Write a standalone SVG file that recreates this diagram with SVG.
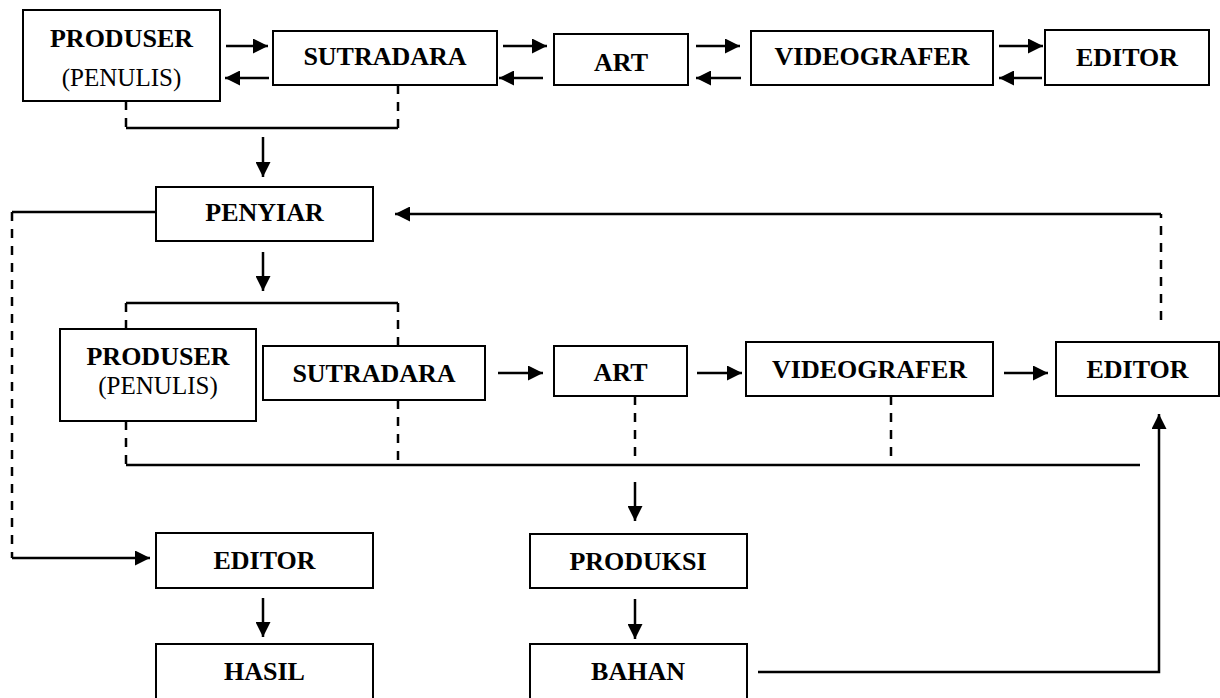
<svg xmlns="http://www.w3.org/2000/svg" width="1220" height="698" viewBox="0 0 1220 698">
<style>
  .box { fill: #fff; stroke: #000; stroke-width: 2; }
  .t { font-family: "Liberation Serif", "Times New Roman", serif; font-size: 26px; font-weight: bold; text-anchor: middle; fill: #000; }
  .r { font-family: "Liberation Serif", "Times New Roman", serif; font-size: 25px; font-weight: normal; text-anchor: middle; fill: #000; }
  .ln { fill: none; stroke: #000; stroke-width: 2.5; }
  .ds { fill: none; stroke: #000; stroke-width: 2.5; stroke-dasharray: 9 8; }
  .ar { fill: none; stroke: #000; stroke-width: 2.5; marker-end: url(#ah); }
</style>
<defs>
  <marker id="ah" markerWidth="15" markerHeight="15" refX="15" refY="7.5" orient="auto" markerUnits="userSpaceOnUse">
    <path d="M0,0 L15,7.5 L0,15 z" fill="#000"/>
  </marker>
</defs>
<rect width="1220" height="698" fill="#fff"/>

<g id="connectors">
  <line class="ar" x1="226" y1="46" x2="268" y2="46"/>
  <line class="ar" x1="269" y1="78" x2="225" y2="78"/>
  <line class="ar" x1="503" y1="46" x2="547" y2="46"/>
  <line class="ar" x1="543" y1="78" x2="499" y2="78"/>
  <line class="ar" x1="696" y1="46" x2="740" y2="46"/>
  <line class="ar" x1="741" y1="78" x2="696" y2="78"/>
  <line class="ar" x1="999" y1="46" x2="1043" y2="46"/>
  <line class="ar" x1="1042" y1="78" x2="999" y2="78"/>

  <line class="ds" x1="126" y1="101" x2="126" y2="128"/>
  <line class="ds" x1="398" y1="85" x2="398" y2="128"/>
  <line class="ln" x1="126" y1="128" x2="398" y2="128"/>
  <line class="ar" x1="263" y1="137" x2="263" y2="177"/>

  <line class="ln" x1="156" y1="212" x2="12" y2="212"/>
  <line class="ds" x1="12" y1="212" x2="12" y2="558"/>
  <line class="ar" x1="12" y1="558" x2="150" y2="558"/>

  <line class="ar" x1="263" y1="252" x2="263" y2="291"/>
  <line class="ln" x1="126" y1="303" x2="398" y2="303"/>
  <line class="ds" x1="126" y1="303" x2="126" y2="329"/>
  <line class="ds" x1="398" y1="303" x2="398" y2="346"/>

  <line class="ds" x1="126" y1="421" x2="126" y2="465"/>
  <line class="ds" x1="398" y1="400" x2="398" y2="465"/>
  <line class="ds" x1="635" y1="396" x2="635" y2="465"/>
  <line class="ds" x1="891" y1="396" x2="891" y2="465"/>
  <line class="ln" x1="126" y1="465" x2="1140" y2="465"/>

  <line class="ar" x1="498" y1="373" x2="543" y2="373"/>
  <line class="ar" x1="697" y1="373" x2="742" y2="373"/>
  <line class="ar" x1="1004" y1="373" x2="1048" y2="373"/>

  <line class="ds" x1="1161" y1="320" x2="1161" y2="214"/>
  <line class="ar" x1="1161" y1="214" x2="395" y2="214"/>

  <line class="ar" x1="635" y1="482" x2="635" y2="521"/>
  <line class="ar" x1="635" y1="599" x2="635" y2="639"/>
  <line class="ar" x1="263" y1="598" x2="263" y2="637"/>

  <polyline class="ar" points="758,672 1159,672 1159,414"/>
</g>

<g id="produser1"><rect class="box" x="23" y="10" width="197" height="91"/><text class="t" x="121.5" y="47">PRODUSER</text><text class="r" x="121.5" y="86">(PENULIS)</text></g>
<g id="sutradara1"><rect class="box" x="273" y="31" width="224" height="54"/><text class="t" x="385" y="64.5">SUTRADARA</text></g>
<g id="art1"><rect class="box" x="554" y="34" width="134" height="51"/><text class="t" x="621" y="71">ART</text></g>
<g id="videografer1"><rect class="box" x="751" y="31" width="242" height="54"/><text class="t" x="872" y="65">VIDEOGRAFER</text></g>
<g id="editor1"><rect class="box" x="1045" y="30" width="164" height="55"/><text class="t" x="1127" y="66">EDITOR</text></g>

<g id="penyiar"><rect class="box" x="156" y="187" width="217" height="54"/><text class="t" x="264.5" y="221">PENYIAR</text></g>

<g id="produser2"><rect class="box" x="60" y="329" width="196" height="92"/><text class="t" x="158" y="365">PRODUSER</text><text class="r" x="158" y="394">(PENULIS)</text></g>
<g id="sutradara2"><rect class="box" x="263" y="346" width="222" height="54"/><text class="t" x="374" y="382">SUTRADARA</text></g>
<g id="art2"><rect class="box" x="554" y="346" width="133" height="50"/><text class="t" x="620.5" y="381">ART</text></g>
<g id="videografer2"><rect class="box" x="746" y="342" width="247" height="54"/><text class="t" x="869.5" y="378">VIDEOGRAFER</text></g>
<g id="editor2"><rect class="box" x="1056" y="342" width="163" height="54"/><text class="t" x="1137.5" y="378">EDITOR</text></g>

<g id="editor3"><rect class="box" x="156" y="533" width="217" height="55"/><text class="t" x="264.5" y="569">EDITOR</text></g>
<g id="hasil"><rect class="box" x="156" y="644" width="217" height="62"/><text class="t" x="264.5" y="680">HASIL</text></g>
<g id="produksi"><rect class="box" x="530" y="534" width="217" height="54"/><text class="t" x="638" y="570">PRODUKSI</text></g>
<g id="bahan"><rect class="box" x="530" y="644" width="217" height="62"/><text class="t" x="638" y="680">BAHAN</text></g>
</svg>
